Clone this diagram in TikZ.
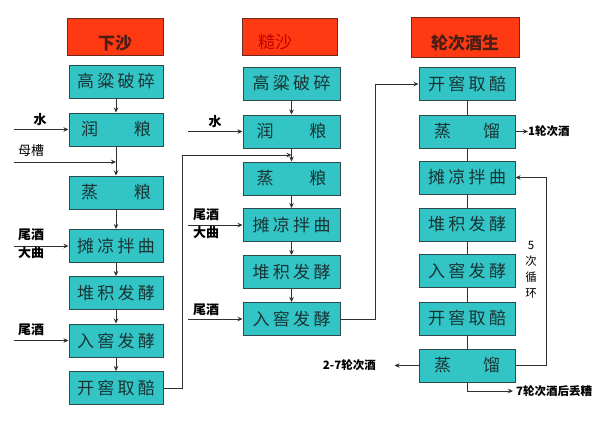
\documentclass[tikz,border=0pt]{standalone}
\usepackage{fontspec}
\setmainfont{Noto Sans CJK SC}
\usetikzlibrary{arrows.meta,calc}
\definecolor{boxfill}{HTML}{33C4C6}
\definecolor{boxline}{HTML}{2E4A4A}
\definecolor{headfill}{HTML}{FF3A12}
\definecolor{headline}{HTML}{6A2A20}
\definecolor{linec}{HTML}{303030}
\definecolor{boxtext}{HTML}{1A3434}
\newcommand{\spr}[2]{\makebox[#1][s]{#2}}
\begin{document}
\begin{tikzpicture}[x=1pt,y=-1pt,
 stepbox/.style={draw=boxline, line width=1pt, fill=boxfill, minimum height=33pt, inner sep=0pt, font=\fontsize{17}{17}\selectfont, text=boxtext},
 headbox/.style={draw=headline, line width=1pt, fill=headfill, inner sep=0pt},
 headtext/.style={font=\fontsize{17}{17}\selectfont\bfseries, inner sep=0pt},
 flow/.style={draw=linec, line width=0.8pt},
 arr/.style={flow, -{Stealth[length=5pt,width=4.5pt]}},
 side/.style={font=\fontsize{13}{18}\selectfont\bfseries, inner sep=0pt, align=center},
 outlbl/.style={font=\fontsize{11.5}{12}\selectfont\bfseries, inner sep=0pt}]
\path[fill=white] (0,0) rectangle (612,421);
\useasboundingbox (0,0) rectangle (612,421);

% headers
\node[headbox, minimum width=96pt, minimum height=37pt] (h1) at (115,36.5) {};
\node[headtext, text=headline!70!black] (h1t) at (115,43) {下沙};
\node[headbox, minimum width=95pt, minimum height=37pt] (h2) at (289.5,36.5) {};
\node[headtext, text=red!75!black, font=\fontsize{17}{17}\selectfont] (h2t) at (275,42) {糙沙};
\node[headbox, minimum width=108pt, minimum height=40pt] (h3) at (465,37) {};
\node[headtext, text=headline!70!black] (h3t) at (465,43) {轮次酒生};

% column 1
\begin{scope}[every node/.append style={stepbox, minimum width=94pt}]
\node (a1) at (116,81.5) {\spr{78pt}{高\hfill 粱\hfill 破\hfill 碎}};
\node (a2) at (116,129.5) {\spr{70pt}{润\hfill 粮}};
\node (a3) at (116,192.5) {\spr{70pt}{蒸\hfill 粮}};
\node (a4) at (116,246) {\spr{78pt}{摊\hfill 凉\hfill 拌\hfill 曲}};
\node (a5) at (116,293) {\spr{78pt}{堆\hfill 积\hfill 发\hfill 酵}};
\node (a6) at (116,340.5) {\spr{78pt}{入\hfill 窖\hfill 发\hfill 酵}};
\node (a7) at (116,388) {\spr{78pt}{开\hfill 窖\hfill 取\hfill 醅}};
\end{scope}

% column 2
\begin{scope}[every node/.append style={stepbox, minimum width=97pt}]
\node (b1) at (291.5,83.5) {\spr{78pt}{高\hfill 粱\hfill 破\hfill 碎}};
\node (b2) at (291.5,131.5) {\spr{70pt}{润\hfill 粮}};
\node (b3) at (291.5,178.5) {\spr{70pt}{蒸\hfill 粮}};
\node (b4) at (291.5,225) {\spr{78pt}{摊\hfill 凉\hfill 拌\hfill 曲}};
\node (b5) at (291.5,272) {\spr{78pt}{堆\hfill 积\hfill 发\hfill 酵}};
\node (b6) at (291.5,319) {\spr{78pt}{入\hfill 窖\hfill 发\hfill 酵}};
\end{scope}

% column 3
\begin{scope}[every node/.append style={stepbox, minimum width=96pt}]
\node (c1) at (467,84) {\spr{78pt}{开\hfill 窖\hfill 取\hfill 醅}};
\node (c2) at (467,131.5) {\spr{66pt}{蒸\hfill 馏}};
\node (c3) at (467,177.5) {\spr{78pt}{摊\hfill 凉\hfill 拌\hfill 曲}};
\node (c4) at (467,224.5) {\spr{78pt}{堆\hfill 积\hfill 发\hfill 酵}};
\node (c5) at (467,270.5) {\spr{78pt}{入\hfill 窖\hfill 发\hfill 酵}};
\node (c6) at (467,318.5) {\spr{78pt}{开\hfill 窖\hfill 取\hfill 醅}};
\node (c7) at (467,365.5) {\spr{66pt}{蒸\hfill 馏}};
\end{scope}

% column 1 connectors
\draw[arr] (a1) -- (a2);
\draw[arr] (a2) -- (a3);
\draw[arr] (a3) -- (a4);
\draw[arr] (a4) -- (a5);
\draw[arr] (a5) -- (a6);
\draw[arr] (a6) -- (a7);

\node[side] (w1) at (40,120) {水};
\coordinate (s1) at (14,129.5);
\draw[arr] (s1) -- (a2.west);
\node[inner sep=0pt, font=\fontsize{13}{13}\selectfont] (mc) at (31,151) {母槽};
\coordinate (m1) at (14,162);
\coordinate (j1) at (a2.south |- m1);
\draw[arr] (m1) -- (j1);
\node[side] (wd1) at (31,244) {尾酒\\大曲};
\coordinate (s2) at (14,246);
\draw[arr] (s2) -- (a4.west);
\node[side] (wj1) at (31,330) {尾酒};
\coordinate (s3) at (14,340.5);
\draw[arr] (s3) -- (a6.west);

% column 1 -> column 2
\coordinate (r1) at (182,0);
\coordinate (j2) at ($(b2.south)!0.5!(b3.north)$);
\draw[arr] (a7.east) -| (r1 |- j2) -- (j2);

% column 2 connectors
\draw[arr] (b1) -- (b2);
\draw[arr] (b2) -- (b3);
\draw[arr] (b3) -- (b4);
\draw[arr] (b4) -- (b5);
\draw[arr] (b5) -- (b6);

\node[side] (w2) at (215,122) {水};
\coordinate (t1) at (188,131.5);
\draw[arr] (t1) -- (b2.west);
\node[side] (wd2) at (206,224) {尾酒\\大曲};
\coordinate (t2) at (188,225);
\draw[arr] (t2) -- (b4.west);
\node[side] (wj2) at (206,310) {尾酒};
\coordinate (t3) at (188,319);
\draw[arr] (t3) -- (b6.west);

% column 2 -> column 3
\coordinate (r2) at (375,0);
\draw[arr] (b6.east) -| (r2 |- c1) -- (c1.west);

% column 3 connectors
\draw[flow] (c1) -- (c2);
\draw[flow] (c2) -- (c3);
\draw[flow] (c3) -- (c4);
\draw[flow] (c4) -- (c5);
\draw[flow] (c5) -- (c6);
\draw[flow] (c6) -- (c7);

\node[outlbl, anchor=west] (o1) at (528,131.5) {1轮次酒};
\draw[arr] (c2.east) -- (o1.west);

\coordinate (r3) at (546,0);
\draw[arr] (c7.east) -| (r3 |- c3) -- (c3.east);
\node[inner sep=0pt, align=center, font=\fontsize{11.5}{16}\selectfont] (xh) at (531,270) {5\\次\\循\\环};

\node[outlbl, anchor=east] (o2) at (376,365) {2-7轮次酒};
\coordinate (e2) at ([xshift=-24pt]c7.west);
\draw[arr] (c7.west) -- (e2);

\node[outlbl, anchor=west] (o3) at (516,391) {7轮次酒后丢糟};
\draw[arr, shorten >=3pt] (c7.south) |- (o3.west);
\end{tikzpicture}
\end{document}
